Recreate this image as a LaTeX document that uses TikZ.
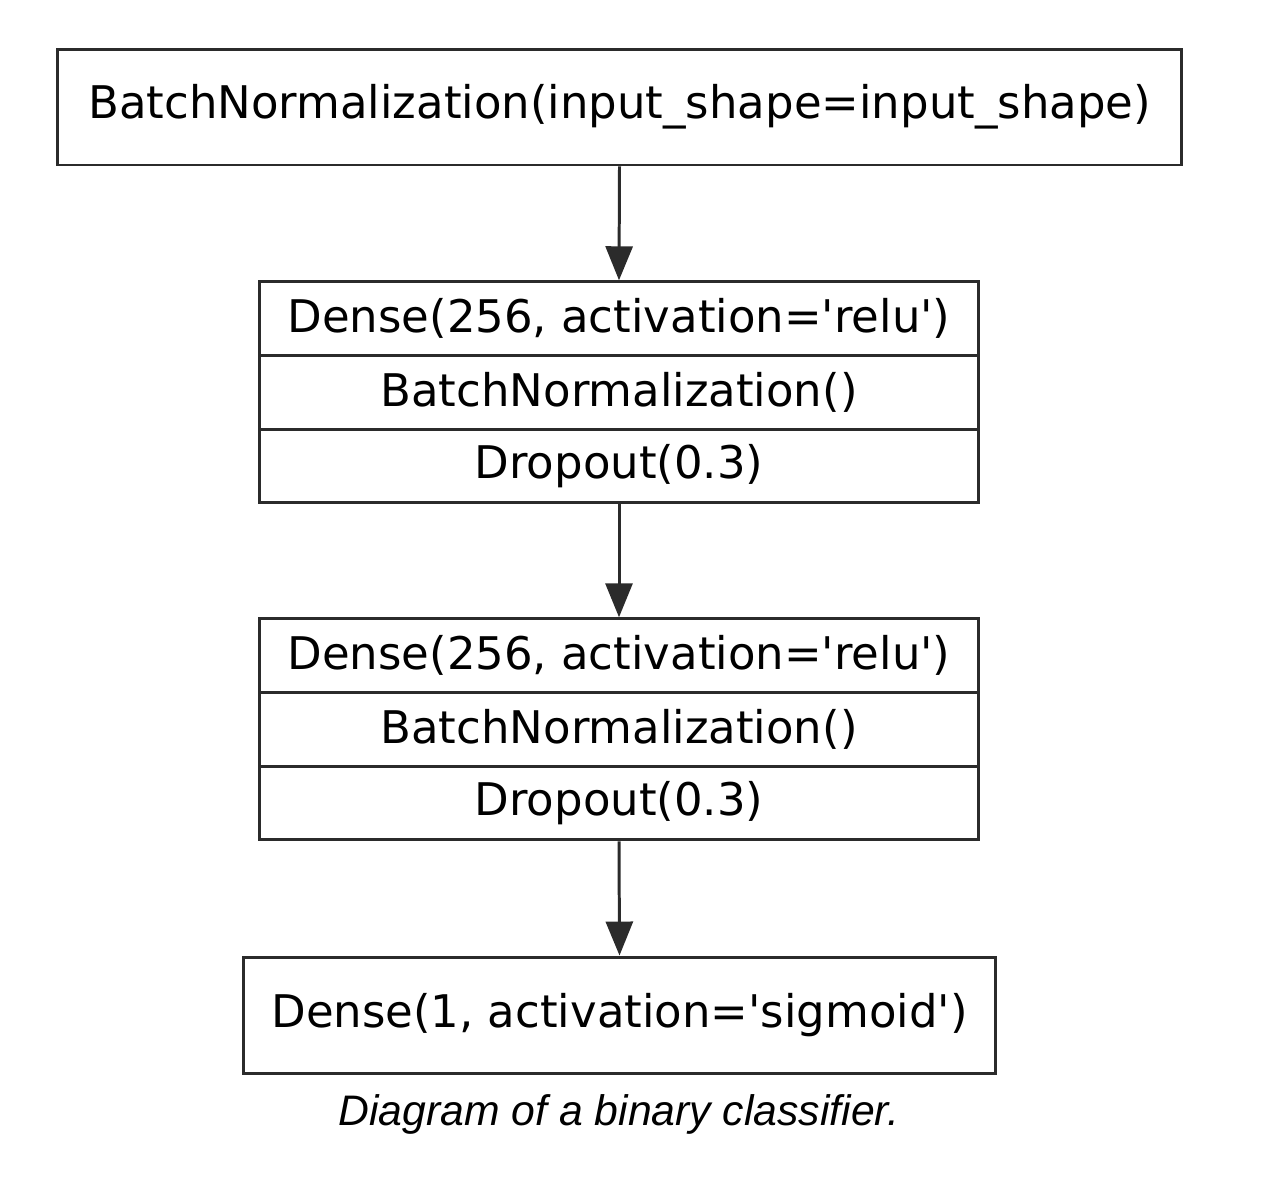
\documentclass[tikz,border=0pt]{standalone}
\usepackage{fontspec}
\setmainfont{DejaVu Sans}
\newfontfamily\capfont{Liberation Sans}
\usetikzlibrary{arrows.meta, positioning}
\definecolor{cline}{HTML}{2B2B2B}
\newcommand{\q}{\textquotesingle}
\tikzset{
  every picture/.style={line width=1.7pt},
  layer/.style={draw=cline, rectangle, align=center, inner sep=0pt, font=\fontsize{25.6}{30}\selectfont},
  wide/.style={layer, minimum width=22.5cm, minimum height=2.32cm},
  row/.style={layer, minimum width=14.4cm, minimum height=1.47cm},
  last/.style={layer, minimum width=15.06cm, minimum height=2.32cm},
  flow/.style={-{Triangle[length=0.68cm, width=0.54cm]}, draw=cline},
  caption/.style={font=\capfont\itshape\fontsize{24.3}{28}\selectfont},
}

\begin{document}
\begin{tikzpicture}[x=0.02cm, y=-0.02cm]
  \useasboundingbox (0, 0) rectangle (1284, 1178);
  \node[wide] (bn) at (619.5, 107) {BatchNormalization(input\_shape=input\_shape)};
  % first hidden block
  \node[row] (d1) at (619, 318.5) {Dense(256, activation=\q relu\q)};
  \node[row] (b1) at (619, 392.5) {BatchNormalization()};
  \node[row] (p1) at (619, 466) {Dropout(0.3)};
  % second hidden block
  \node[row] (d2) at (619, 655.5) {Dense(256, activation=\q relu\q)};
  \node[row] (b2) at (619, 729.5) {BatchNormalization()};
  \node[row] (p2) at (619, 803) {Dropout(0.3)};
  % output
  \node[last] (out) at (619.5, 1015) {Dense(1, activation=\q sigmoid\q)};
  \draw[flow] (bn.south) -- (d1.north);
  \draw[flow] (p1.south) -- (d2.north);
  \draw[flow] (p2.south) -- (out.north);
  \node[caption] (cap) at (619, 1114) {Diagram of a binary classifier.};
\end{tikzpicture}
\end{document}
